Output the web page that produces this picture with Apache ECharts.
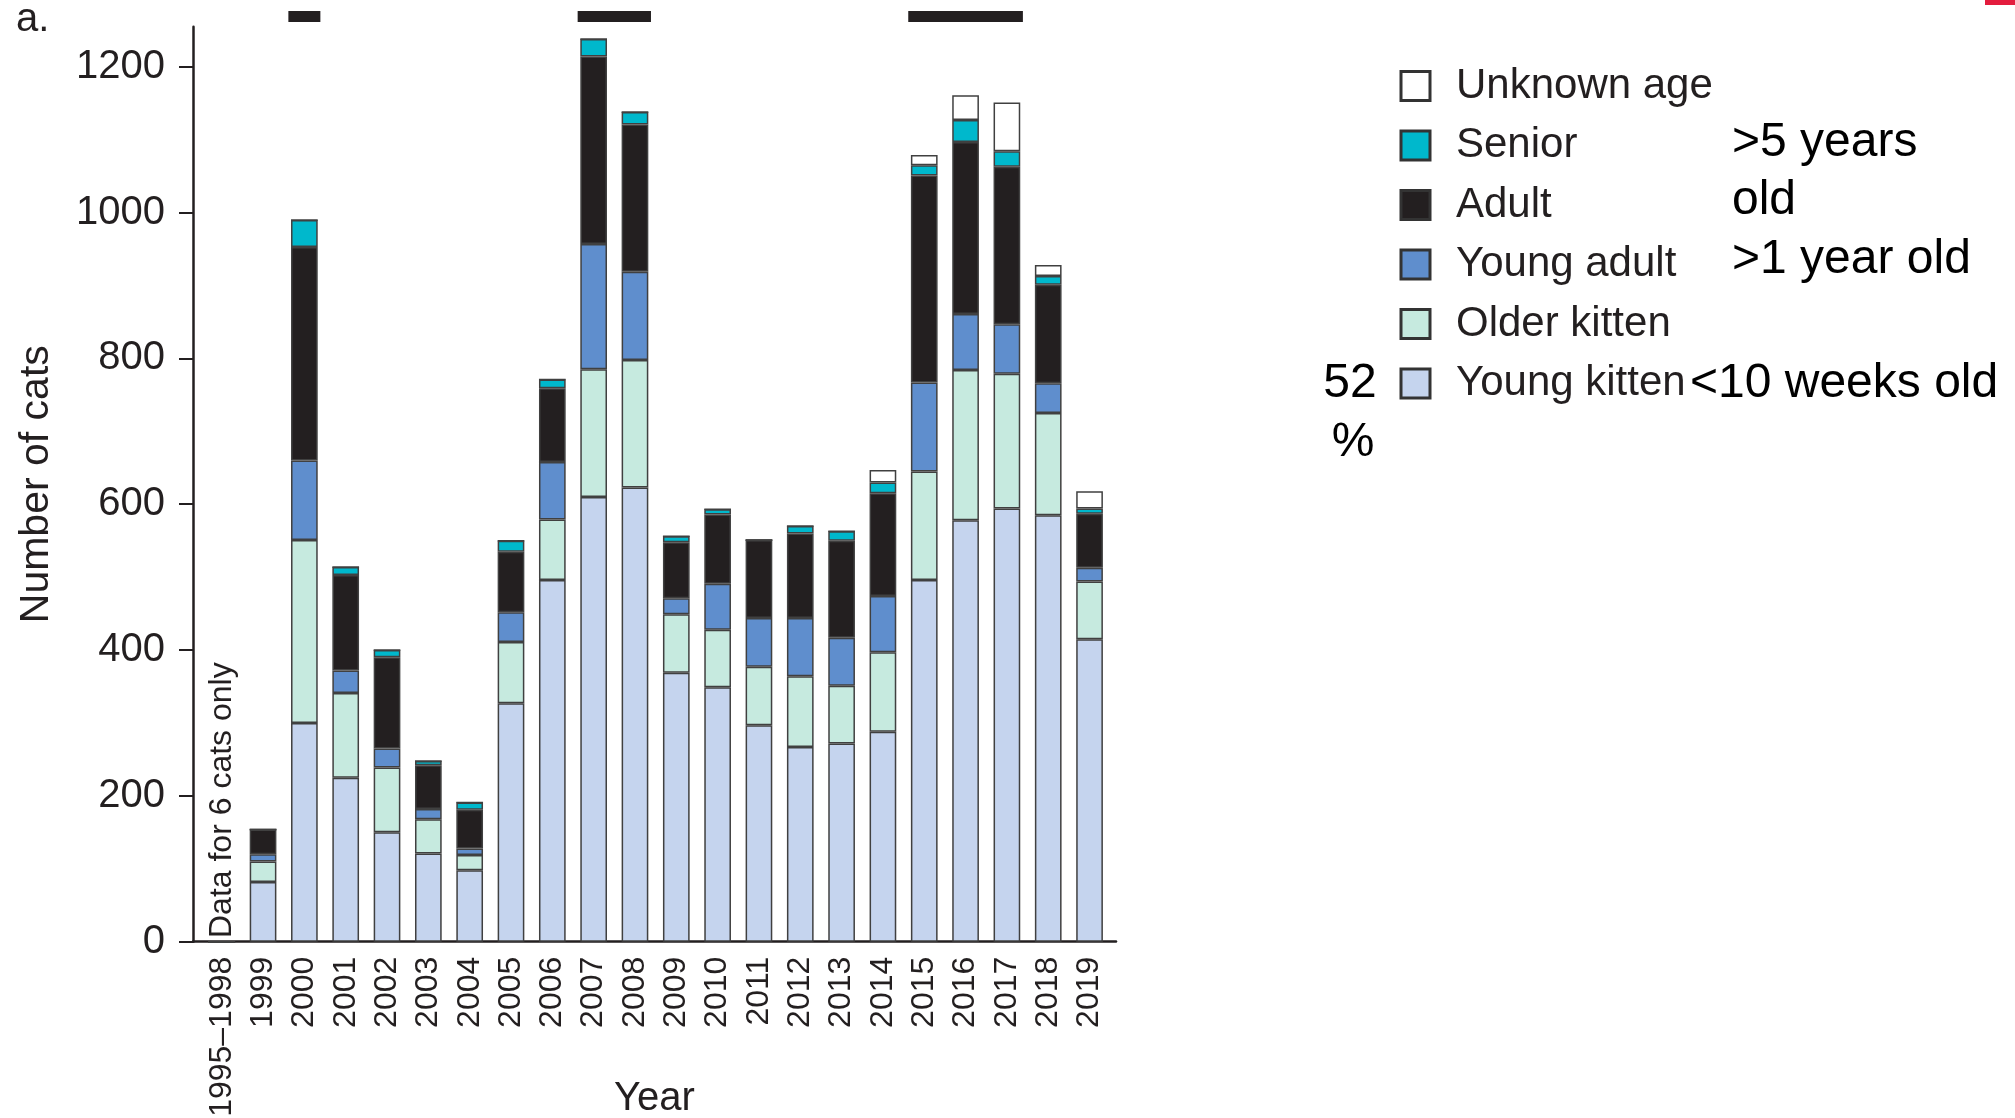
<!DOCTYPE html>
<html>
<head>
<meta charset="utf-8">
<style>
  html, body { margin: 0; padding: 0; background: #ffffff; }
  #chart { width: 2015px; height: 1118px; }
</style>
<script src="https://cdn.jsdelivr.net/npm/echarts@6/dist/echarts.min.js"></script>
</head>
<body>
<div id="chart"></div>
<script>
// ---- data ----
const categories = ['1995–1998','1999','2000','2001','2002','2003','2004','2005','2006','2007','2008','2009','2010','2011','2012','2013','2014','2015','2016','2017','2018','2019'];
const youngKitten = [0, 82, 300, 225, 150, 121, 98, 327, 496, 610, 623, 369, 349, 297, 267, 272, 288, 496, 578, 594, 585, 415];
const olderKitten = [0, 28, 251, 116, 89, 47, 21, 84, 83, 175, 175, 80, 79, 80, 97, 79, 109, 149, 206, 185, 140, 79];
const youngAdult  = [0, 10, 109, 31, 26, 14, 9, 41, 79, 172, 121, 22, 63, 67, 80, 66, 77, 122, 77, 68, 41, 19];
const adult       = [0, 34, 293, 131, 125, 60, 53, 83, 101, 257, 202, 77, 95, 107, 116, 133, 141, 284, 236, 216, 135, 74];
const senior      = [0, 0, 37, 11, 10, 6, 10, 15, 12, 24, 17, 8, 7, 0, 10, 13, 15, 14, 30, 21, 12, 7];
const unknownAge  = [0, 0, 0, 0, 0, 0, 0, 0, 0, 0, 0, 0, 0, 0, 0, 0, 17, 14, 34, 67, 15, 24];
const yTicks = [0, 200, 400, 600, 800, 1000, 1200];
const sigStart = ['2000', '2007', '2015'];
const sigEnd   = ['2000', '2008', '2017'];

// ---- styles ----
const FONT = '"Liberation Sans", Arial, sans-serif';
const INK = '#231f20';
const seriesDefs = [
  { name: 'Young kitten', data: youngKitten, color: '#c5d4ee' },
  { name: 'Older kitten', data: olderKitten, color: '#c6eadf' },
  { name: 'Young adult',  data: youngAdult,  color: '#5f8ecd' },
  { name: 'Adult',        data: adult,       color: '#231f20' },
  { name: 'Senior',       data: senior,      color: '#00b8cc' },
  { name: 'Unknown age',  data: unknownAge,  color: '#ffffff' }
];
const catIndex = categories.map((c, i) => i);

// value first, position index second, so the stack is built on the value dimension
const barSeries = seriesDefs.map(d => ({
  name: d.name,
  type: 'bar',
  stack: 'cats',
  barWidth: 26.7,
  encode: { x: 1, y: 0 },
  data: d.data.map((v, i) => [v, i]),
  itemStyle: { color: d.color, borderColor: '#404040', borderWidth: 1.5 },
  emphasis: { disabled: true }
}));

const sigSeries = {
  type: 'custom',
  name: 'sig',
  clip: false,
  silent: true,
  data: sigStart.map((s, i) => [categories.indexOf(s), categories.indexOf(sigEnd[i])]),
  encode: { x: [0, 1] },
  renderItem: function (params, api) {
    const p0 = api.coord([api.value(0), 1269]);
    const p1 = api.coord([api.value(1), 1269]);
    const half = 16;
    return {
      type: 'rect',
      shape: { x: p0[0] - half, y: p0[1] - 5.5, width: p1[0] - p0[0] + 2 * half, height: 11 },
      style: { fill: INK }
    };
  }
};

const chart = echarts.init(document.getElementById('chart'), null, { renderer: 'canvas' });
chart.setOption({
  animation: false,
  backgroundColor: '#ffffff',
  textStyle: { fontFamily: FONT, color: INK },
  grid: { left: 193, right: 899, top: 26.7, bottom: 176.3, containLabel: false, outerBoundsMode: 'none' },
  xAxis: {
    type: 'value',
    min: -0.695,
    max: 21.64,
    splitLine: { show: false },
    axisLine: { show: true, onZero: false, lineStyle: { color: INK, width: 2.5 } },
    axisTick: { show: false },
    axisLabel: {
      rotate: 90, fontSize: 32, color: INK, margin: 15, fontFamily: FONT,
      customValues: catIndex,
      formatter: v => (categories[Math.round(v)] || '')
    },
    name: 'Year',
    nameLocation: 'middle',
    nameGap: 137,
    nameMoveOverlap: false,
    nameTextStyle: { fontSize: 40, color: INK, fontFamily: FONT }
  },
  yAxis: {
    type: 'value',
    min: 0,
    max: 1255,
    interval: 200,
    splitLine: { show: false },
    axisLine: { show: true, onZero: false, lineStyle: { color: INK, width: 2.5 } },
    axisTick: { show: true, length: 14, lineStyle: { color: INK, width: 2 }, customValues: yTicks },
    axisLabel: { fontSize: 40, color: INK, margin: 28, fontFamily: FONT, customValues: yTicks,
      formatter: v => (v % 200 === 0 ? String(v) : '') },
    name: 'Number of cats',
    nameLocation: 'middle',
    nameRotate: 90,
    nameGap: 136,
    nameMoveOverlap: false,
    nameTextStyle: { fontSize: 41, color: INK, fontFamily: FONT }
  },
  legend: {
    orient: 'vertical',
    left: 1399.5,
    top: 65,
    padding: 0,
    itemWidth: 29,
    itemHeight: 29,
    itemGap: 17.5,
    icon: 'rect',
    selectedMode: false,
    data: ['Unknown age', 'Senior', 'Adult', 'Young adult', 'Older kitten', 'Young kitten'],
    itemStyle: { borderColor: '#333333', borderWidth: 3 },
    textStyle: { fontSize: 42, color: INK, fontFamily: FONT, padding: [0, 0, 0, 21] }
  },
  graphic: [
    { type: 'text', left: 16, top: 0, style: { text: 'a.', fontSize: 40, fill: INK, fontFamily: FONT } },
    { type: 'text', x: 222, y: 938, rotation: Math.PI / 2,
      style: { text: 'Data for 6 cats only', fontSize: 32, fill: INK, fontFamily: FONT, textAlign: 'left', textVerticalAlign: 'middle' } },
    { type: 'text', x: 1732, y: 114, style: { text: '>5 years\nold', fontSize: 48, lineHeight: 58, fill: '#000', fontFamily: FONT, textAlign: 'left', textVerticalAlign: 'top' } },
    { type: 'text', x: 1732, y: 260, style: { text: '>1 year old', fontSize: 48, fill: '#000', fontFamily: FONT, textAlign: 'left', textVerticalAlign: 'middle' } },
    { type: 'text', x: 1690, y: 384, style: { text: '<10 weeks old', fontSize: 48, fill: '#000', fontFamily: FONT, textAlign: 'left', textVerticalAlign: 'middle' } },
    { type: 'text', x: 1350, y: 384, style: { text: '52', fontSize: 48, fill: '#000', fontFamily: FONT, textAlign: 'center', textVerticalAlign: 'middle' } },
    { type: 'text', x: 1353, y: 443, style: { text: '%', fontSize: 48, fill: '#000', fontFamily: FONT, textAlign: 'center', textVerticalAlign: 'middle' } },
    { type: 'rect', shape: { x: 1985, y: 0, width: 30, height: 5 }, style: { fill: '#e31c3d' } }
  ],
  series: barSeries.concat([sigSeries])
});
</script>
</body>
</html>
